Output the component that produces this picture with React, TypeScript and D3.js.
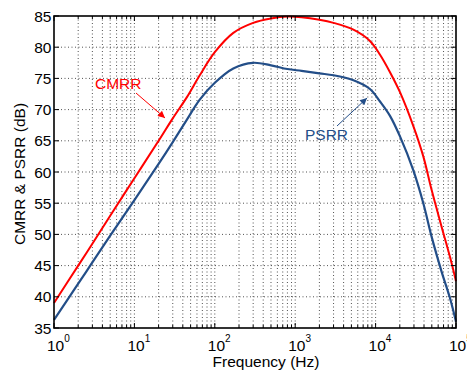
import { useEffect, useRef } from "react";
import * as d3 from "d3";

const RED = "#ff0000";
const BLUE = "#234e88";

// frequency points (Hz)
const freq = [1, 2, 3, 5, 10, 20, 30, 45, 65, 100, 170, 300, 500, 800, 1200, 2000, 3000, 5300, 8500, 11350, 15100, 20100, 29400, 39200, 49800, 66300, 84100, 100000];
const cmrr = [39.0, 45.0, 48.5, 53.0, 59.0, 65.0, 68.6, 72.0, 75.5, 79.2, 82.3, 83.9, 84.6, 84.9, 84.8, 84.4, 83.9, 82.8, 81.0, 78.8, 76.0, 72.8, 67.4, 62.5, 57.1, 51.2, 46.4, 42.5];
const psrr = [36.3, 42.1, 45.5, 49.8, 55.5, 61.3, 64.8, 68.4, 71.6, 74.3, 76.6, 77.5, 77.1, 76.5, 76.2, 75.8, 75.5, 74.7, 73.3, 71.3, 69.0, 65.7, 60.3, 55.0, 49.6, 44.0, 39.8, 36.0];

const yTicks = [35, 40, 45, 50, 55, 60, 65, 70, 75, 80, 85];
const decades = [0, 1, 2, 3, 4, 5];

export default function App() {
  const ref = useRef<SVGSVGElement>(null);

  useEffect(() => {
    if (!ref.current) return;
    const W = 467, H = 372;
    const L = 54, R = 456, T = 16, B = 328;
    const svg = d3.select(ref.current).attr("width", W).attr("height", H);
    svg.selectAll("*").remove();

    const x = d3.scaleLog().domain([1, 1e5]).range([L, R]);
    const y = d3.scaleLinear().domain([35, 85]).range([B, T]);
    const font = "Liberation Sans, Arial, Helvetica, sans-serif";
    const fs = 15.5;

    const minors: number[] = [];
    decades.slice(0, -1).forEach(d => {
      for (let k = 1; k <= 9; k++) minors.push(k * Math.pow(10, d));
    });
    minors.push(1e5);

    // grid
    const grid = svg.append("g").attr("stroke", "#000").attr("stroke-width", 0.8)
      .attr("stroke-dasharray", "1,2.5").attr("opacity", 0.85);
    minors.filter(v => v > 1 && v < 1e5).forEach(v => {
      grid.append("line").attr("x1", x(v)).attr("x2", x(v)).attr("y1", T).attr("y2", B);
    });
    yTicks.filter(v => v > 35 && v < 85).forEach(v => {
      grid.append("line").attr("x1", L).attr("x2", R).attr("y1", y(v)).attr("y2", y(v));
    });

    // curves
    const line = d3.line<number>()
      .x((_, i) => x(freq[i]))
      .y(d => y(d))
      .curve(d3.curveCatmullRom.alpha(0.5));
    svg.append("path").attr("d", line(cmrr)).attr("fill", "none")
      .attr("stroke", RED).attr("stroke-width", 2);
    svg.append("path").attr("d", line(psrr)).attr("fill", "none")
      .attr("stroke", BLUE).attr("stroke-width", 2.2);

    // ticks (inside, all four sides)
    const tk = svg.append("g").attr("stroke", "#000").attr("stroke-width", 1);
    minors.forEach(v => {
      const major = Number.isInteger(Math.log10(v));
      const len = major ? 5 : 3;
      tk.append("line").attr("x1", x(v)).attr("x2", x(v)).attr("y1", B).attr("y2", B - len);
      tk.append("line").attr("x1", x(v)).attr("x2", x(v)).attr("y1", T).attr("y2", T + len);
    });
    yTicks.forEach(v => {
      tk.append("line").attr("x1", L).attr("x2", L + 5).attr("y1", y(v)).attr("y2", y(v));
      tk.append("line").attr("x1", R).attr("x2", R - 5).attr("y1", y(v)).attr("y2", y(v));
    });

    // box
    svg.append("rect").attr("x", L).attr("y", T).attr("width", R - L).attr("height", B - T)
      .attr("fill", "none").attr("stroke", "#000").attr("stroke-width", 1.6);

    // y tick labels
    yTicks.forEach(v => {
      svg.append("text").attr("x", L - 2.5).attr("y", y(v) + 5.5)
        .attr("text-anchor", "end").attr("font-family", font).attr("font-size", fs)
        .attr("fill", "#000").text(v);
    });

    // x tick labels 10^n
    decades.forEach(d => {
      const t = svg.append("text").attr("x", x(Math.pow(10, d)) - 7).attr("y", 350.5)
        .attr("font-family", font).attr("font-size", fs).attr("fill", "#000");
      t.append("tspan").text("10");
      t.append("tspan").attr("font-size", 10).attr("dy", -8.5).text(d);
    });

    // axis titles
    svg.append("text").attr("x", 266).attr("y", 367).attr("text-anchor", "middle")
      .attr("font-family", font).attr("font-size", fs).attr("fill", "#000")
      .text("Frequency (Hz)");
    svg.append("text").attr("transform", `translate(25,${(T + B) / 2 + 2})rotate(-90)`)
      .attr("text-anchor", "middle").attr("font-family", font).attr("font-size", fs)
      .attr("fill", "#000").text("CMRR & PSRR (dB)");

    // annotations
    const defs = svg.append("defs");
    [["arr-red", RED], ["arr-blue", BLUE]].forEach(([id, c]) => {
      defs.append("marker").attr("id", id).attr("viewBox", "0 0 10 10")
        .attr("refX", 10).attr("refY", 5).attr("markerWidth", 10).attr("markerHeight", 7)
        .attr("markerUnits", "userSpaceOnUse").attr("orient", "auto")
        .append("path").attr("d", "M0,0L10,5L0,10z").attr("fill", c);
    });
    svg.append("text").attr("x", 95).attr("y", 89).attr("font-family", font)
      .attr("font-size", fs).attr("fill", RED).text("CMRR");
    svg.append("line").attr("x1", 136).attr("y1", 93).attr("x2", 165).attr("y2", 118)
      .attr("stroke", RED).attr("stroke-width", 1).attr("marker-end", "url(#arr-red)");
    svg.append("text").attr("x", 305).attr("y", 140).attr("font-family", font)
      .attr("font-size", fs).attr("fill", BLUE).text("PSRR");
    svg.append("line").attr("x1", 337).attr("y1", 126).attr("x2", 367).attr("y2", 98)
      .attr("stroke", BLUE).attr("stroke-width", 1).attr("marker-end", "url(#arr-blue)");
  }, []);

  return (
    <div style={{ position: "absolute", left: 0, top: 0, background: "#fff" }}>
      <svg ref={ref} />
    </div>
  );
}
